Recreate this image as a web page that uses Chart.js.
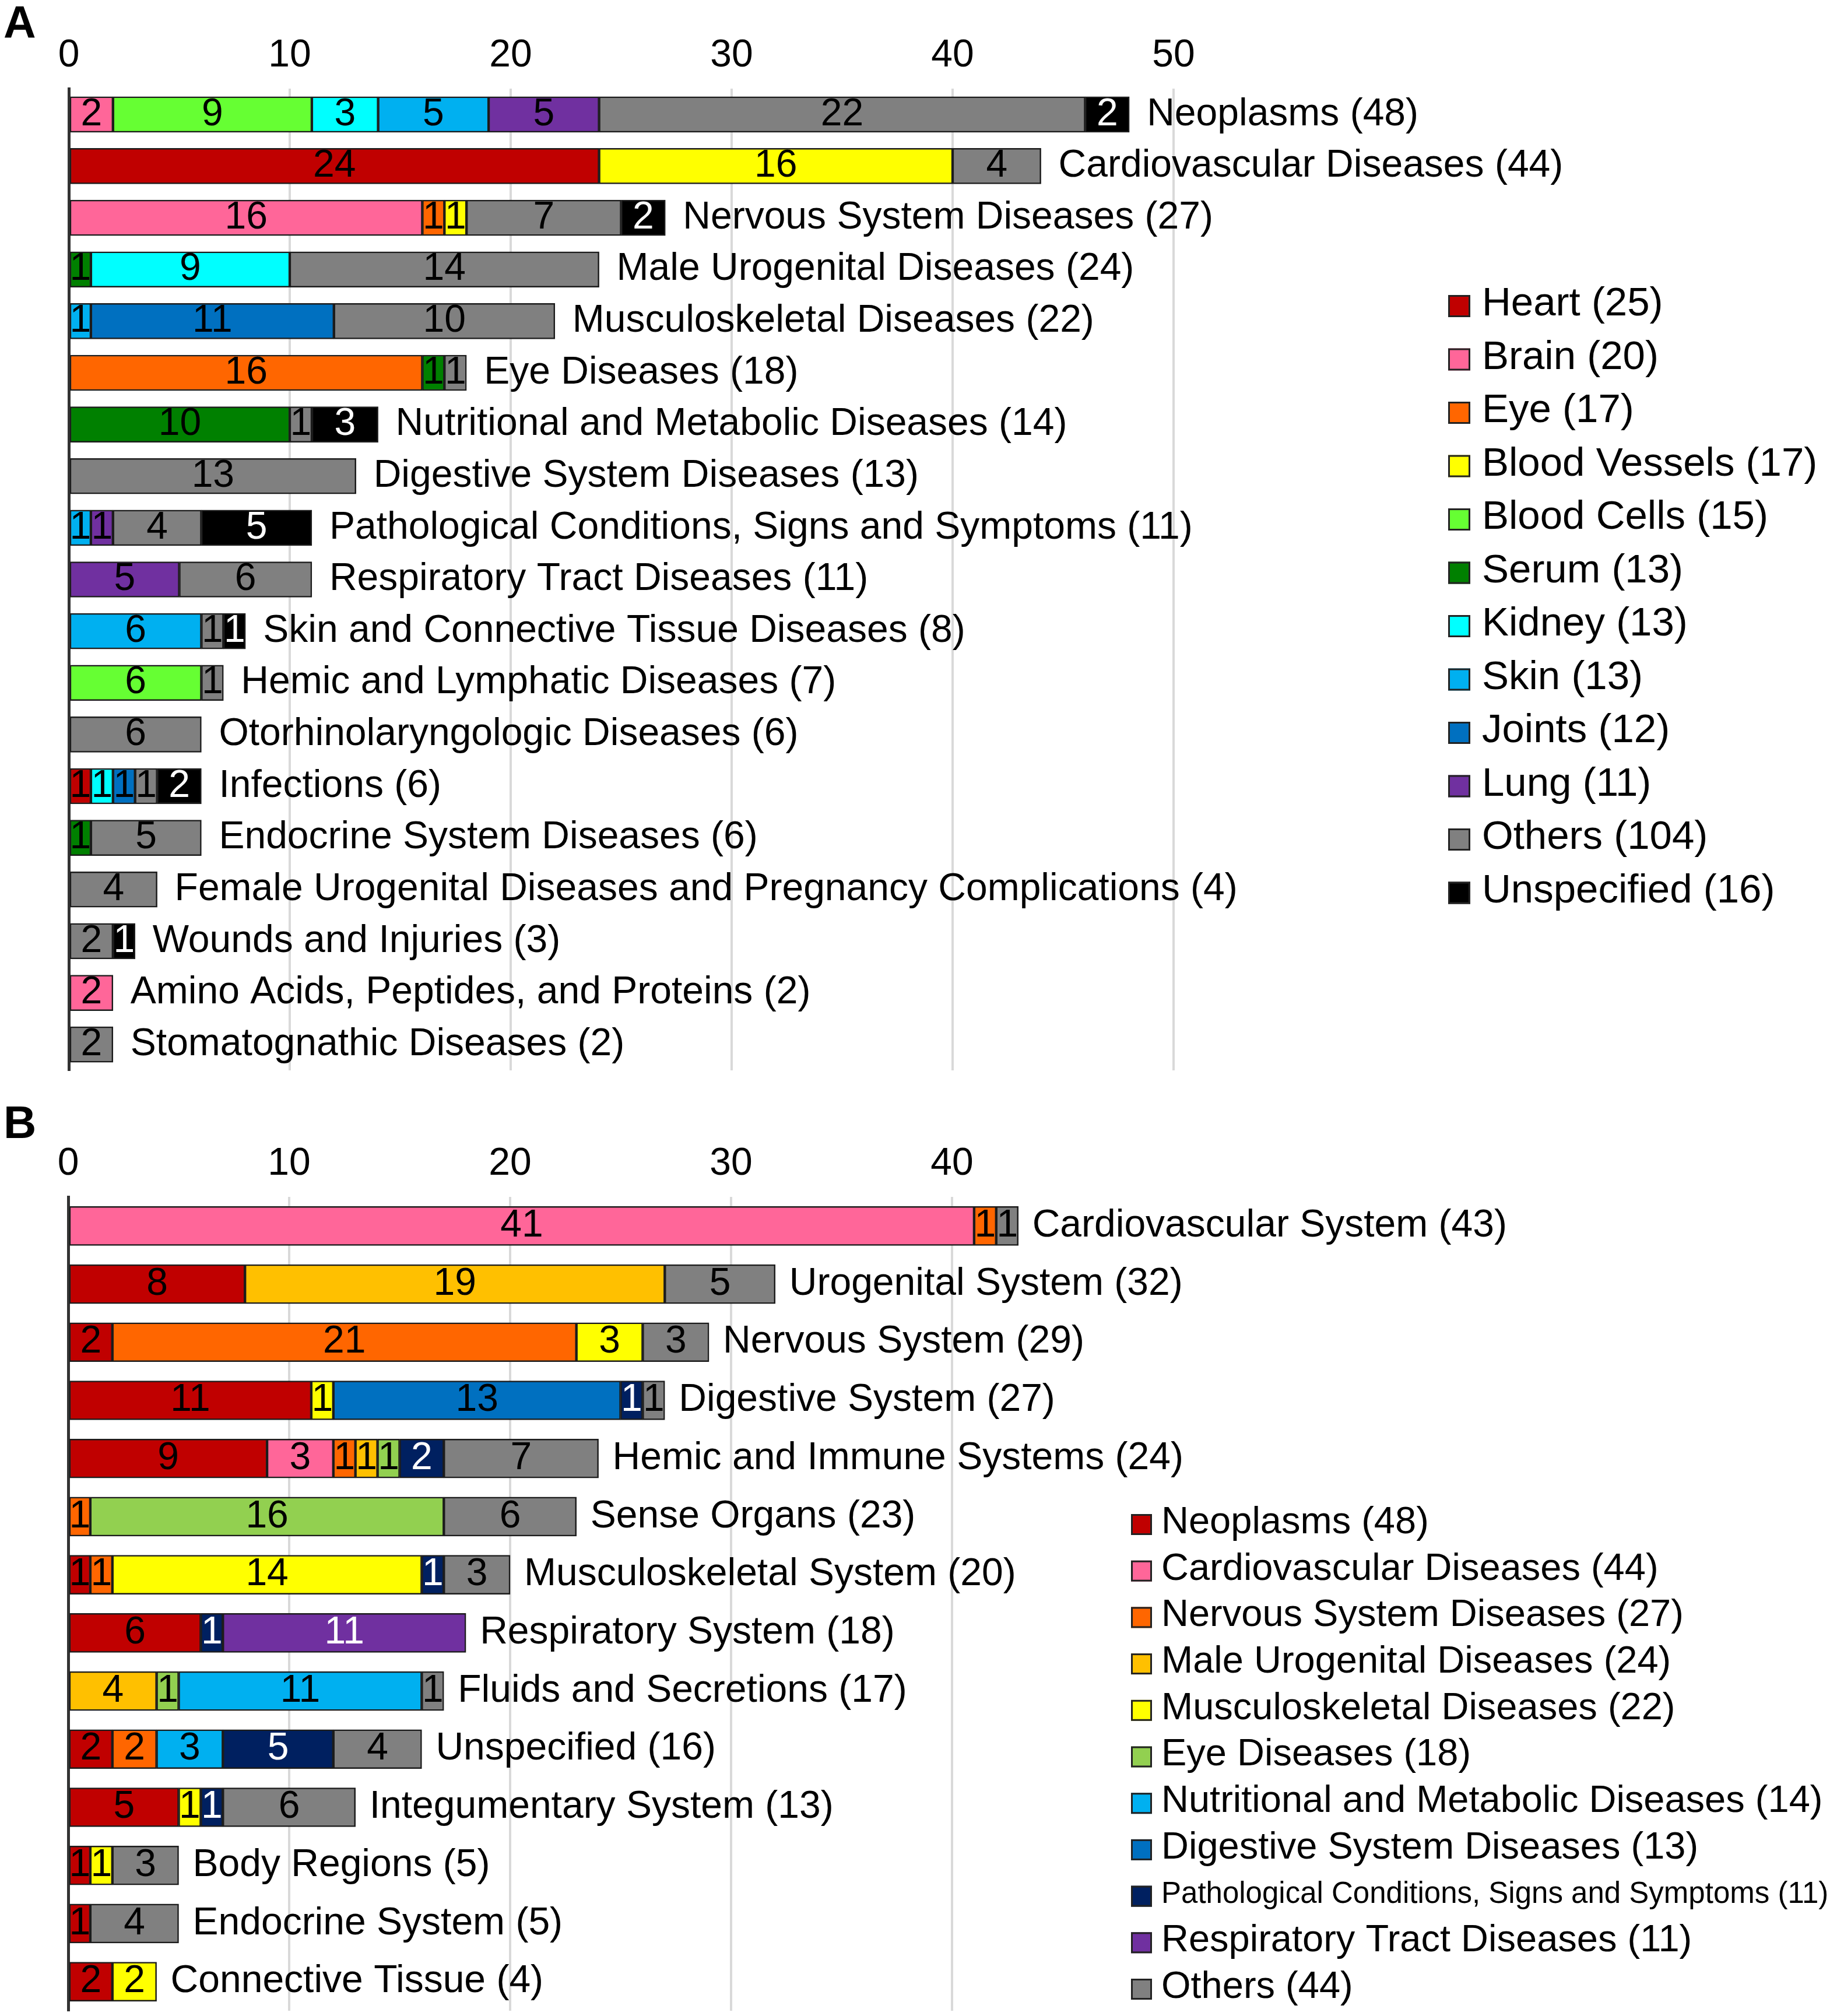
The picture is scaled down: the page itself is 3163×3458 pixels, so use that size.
<!DOCTYPE html>
<html>
<head>
<meta charset="utf-8">
<script src="https://cdn.jsdelivr.net/npm/chart.js@4.4.1/dist/chart.umd.min.js"></script>
<style>
  html, body { margin: 0; padding: 0; background: #fff; }
  body { width: 3163px; height: 3458px; position: relative; overflow: hidden; }
  canvas { position: absolute; left: 0; }
  #chartA { top: 0; }
  #chartB { top: 1860px; }
</style>
</head>
<body>
<canvas id="chartA" width="3163" height="1860"></canvas>
<canvas id="chartB" width="3163" height="1598"></canvas>
<script>
// ---------- panel A: disease categories by tissue ----------
const diseasesA = ['Neoplasms', 'Cardiovascular Diseases', 'Nervous System Diseases', 'Male Urogenital Diseases',
  'Musculoskeletal Diseases', 'Eye Diseases', 'Nutritional and Metabolic Diseases', 'Digestive System Diseases',
  'Pathological Conditions, Signs and Symptoms', 'Respiratory Tract Diseases', 'Skin and Connective Tissue Diseases',
  'Hemic and Lymphatic Diseases', 'Otorhinolaryngologic Diseases', 'Infections', 'Endocrine System Diseases',
  'Female Urogenital Diseases and Pregnancy Complications', 'Wounds and Injuries',
  'Amino Acids, Peptides, and Proteins', 'Stomatognathic Diseases'];
const totalsA = [48, 44, 27, 24, 22, 18, 14, 13, 11, 11, 8, 7, 6, 6, 6, 4, 3, 2, 2];

const tissues = ['Heart', 'Brain', 'Eye', 'Blood Vessels', 'Blood Cells', 'Serum', 'Kidney', 'Skin', 'Joints', 'Lung', 'Others', 'Unspecified'];
const tissueCounts = [25, 20, 17, 17, 15, 13, 13, 13, 12, 11, 104, 16];

const heart        = [0, 24, 0, 0, 0, 0, 0, 0, 0, 0, 0, 0, 0, 1, 0, 0, 0, 0, 0];
const brain        = [2, 0, 16, 0, 0, 0, 0, 0, 0, 0, 0, 0, 0, 0, 0, 0, 0, 2, 0];
const eye          = [0, 0, 1, 0, 0, 16, 0, 0, 0, 0, 0, 0, 0, 0, 0, 0, 0, 0, 0];
const bloodVessels = [0, 16, 1, 0, 0, 0, 0, 0, 0, 0, 0, 0, 0, 0, 0, 0, 0, 0, 0];
const bloodCells   = [9, 0, 0, 0, 0, 0, 0, 0, 0, 0, 0, 6, 0, 0, 0, 0, 0, 0, 0];
const serum        = [0, 0, 0, 1, 0, 1, 10, 0, 0, 0, 0, 0, 0, 0, 1, 0, 0, 0, 0];
const kidney       = [3, 0, 0, 9, 0, 0, 0, 0, 0, 0, 0, 0, 0, 1, 0, 0, 0, 0, 0];
const skin         = [5, 0, 0, 0, 1, 0, 0, 0, 1, 0, 6, 0, 0, 0, 0, 0, 0, 0, 0];
const joints       = [0, 0, 0, 0, 11, 0, 0, 0, 0, 0, 0, 0, 0, 1, 0, 0, 0, 0, 0];
const lung         = [5, 0, 0, 0, 0, 0, 0, 0, 1, 5, 0, 0, 0, 0, 0, 0, 0, 0, 0];
const othersA      = [22, 4, 7, 14, 10, 1, 1, 13, 4, 6, 1, 1, 6, 1, 5, 4, 2, 0, 2];
const unspecified  = [2, 0, 2, 0, 0, 0, 3, 0, 5, 0, 1, 0, 0, 2, 0, 0, 1, 0, 0];

// ---------- panel B: anatomy categories by disease ----------
const anatomyB = ['Cardiovascular System', 'Urogenital System', 'Nervous System', 'Digestive System',
  'Hemic and Immune Systems', 'Sense Organs', 'Musculoskeletal System', 'Respiratory System',
  'Fluids and Secretions', 'Unspecified', 'Integumentary System', 'Body Regions', 'Endocrine System', 'Connective Tissue'];
const totalsB = [43, 32, 29, 27, 24, 23, 20, 18, 17, 16, 13, 5, 5, 4];

const diseaseGroups = ['Neoplasms', 'Cardiovascular Diseases', 'Nervous System Diseases', 'Male Urogenital Diseases',
  'Musculoskeletal Diseases', 'Eye Diseases', 'Nutritional and Metabolic Diseases', 'Digestive System Diseases',
  'Pathological Conditions, Signs and Symptoms', 'Respiratory Tract Diseases', 'Others'];
const diseaseCounts = [48, 44, 27, 24, 22, 18, 14, 13, 11, 11, 44];

const neoplasms      = [0, 8, 2, 11, 9, 0, 1, 6, 0, 2, 5, 1, 1, 2];
const cardiovascular = [41, 0, 0, 0, 3, 0, 0, 0, 0, 0, 0, 0, 0, 0];
const nervous        = [1, 0, 21, 0, 1, 1, 1, 0, 0, 2, 0, 0, 0, 0];
const maleUrogenital = [0, 19, 0, 0, 1, 0, 0, 0, 4, 0, 0, 0, 0, 0];
const musculo        = [0, 0, 3, 1, 0, 0, 14, 0, 0, 0, 1, 1, 0, 2];
const eyeDiseases    = [0, 0, 0, 0, 1, 16, 0, 0, 1, 0, 0, 0, 0, 0];
const nutritional    = [0, 0, 0, 0, 0, 0, 0, 0, 11, 3, 0, 0, 0, 0];
const digestive      = [0, 0, 0, 13, 0, 0, 0, 0, 0, 0, 0, 0, 0, 0];
const pathological   = [0, 0, 0, 1, 2, 0, 1, 1, 0, 5, 1, 0, 0, 0];
const respiratory    = [0, 0, 0, 0, 0, 0, 0, 11, 0, 0, 0, 0, 0, 0];
const othersB        = [1, 5, 3, 1, 7, 6, 3, 0, 1, 4, 6, 3, 4, 0];

const FONT = '"Liberation Sans", Arial, Helvetica, sans-serif';
Chart.defaults.font.family = FONT;
Chart.defaults.color = '#000';

// numbers inside the segments and "Name (total)" after each bar
const barText = {
  id: 'barText',
  afterDatasetsDraw(chart, args, opts) {
    const ctx = chart.ctx;
    const xs = chart.scales.x, ys = chart.scales.y;
    ctx.save();
    ctx.font = opts.size + 'px ' + FONT;
    ctx.textAlign = 'center';
    ctx.textBaseline = 'middle';
    chart.data.datasets.forEach((ds, i) => {
      chart.getDatasetMeta(i).data.forEach((bar, j) => {
        const v = ds.data[j];
        if (!v) return;
        ctx.fillStyle = ds.textColor || '#000';
        ctx.fillText(String(v), (bar.x + bar.base) / 2, bar.y + opts.dy);
      });
    });
    ctx.textAlign = 'left';
    ctx.fillStyle = '#000';
    ctx.font = opts.labelSize + 'px ' + FONT;
    chart.data.labels.forEach((name, j) => {
      const t = opts.totals[j];
      ctx.fillText(name + ' (' + t + ')', xs.getPixelForValue(t) + opts.gap, ys.getPixelForValue(j) + opts.dy);
    });
    ctx.restore();
  }
};

// legend column on the right plus the panel letter
const sideLegend = {
  id: 'sideLegend',
  afterDraw(chart, args, o) {
    const ctx = chart.ctx;
    ctx.save();
    ctx.textAlign = 'left';
    ctx.textBaseline = 'middle';
    chart.data.datasets.forEach((ds, i) => {
      const cy = o.top + i * o.step;
      ctx.fillStyle = ds.backgroundColor;
      ctx.fillRect(o.left, cy - o.box / 2, o.box, o.box);
      ctx.lineWidth = 3;
      ctx.strokeStyle = '#222';
      ctx.strokeRect(o.left + 1.5, cy - o.box / 2 + 1.5, o.box - 3, o.box - 3);
      ctx.fillStyle = '#000';
      const size = (o.sizes && o.sizes[i]) || o.size;
      ctx.font = size + 'px ' + FONT;
      ctx.fillText(ds.label + ' (' + o.counts[i] + ')', o.textLeft, cy + o.dy);
    });
    ctx.textBaseline = 'alphabetic';
    ctx.font = 'bold ' + o.tagSize + 'px ' + FONT;
    ctx.fillText(o.tag, o.tagX, o.tagY);
    ctx.restore();
  }
};

function makeDatasets(series, names, colors, textColors) {
  return series.map((vals, i) => ({
    label: names[i],
    data: vals.map(v => v || null),
    backgroundColor: colors[i],
    textColor: textColors[i] || '#000',
    borderColor: '#1c1c1c',
    borderWidth: 2.5,
    borderSkipped: false
  }));
}

function makeChart(id, labels, datasets, cfg) {
  return new Chart(document.getElementById(id), {
    type: 'bar',
    data: { labels: labels, datasets: datasets },
    plugins: [barText, sideLegend],
    options: {
      indexAxis: 'y',
      responsive: false,
      devicePixelRatio: 1,
      animation: false,
      barThickness: cfg.barThickness,
      layout: { padding: cfg.padding },
      scales: {
        x: {
          position: 'top',
          stacked: true,
          min: 0,
          max: 50,
          afterFit: s => { s.height = cfg.axisHeight; },
          ticks: {
            stepSize: 10,
            padding: 17,
            font: { size: 66 },
            color: '#000',
            callback: v => (cfg.hide50 && v === 50) ? '' : v
          },
          grid: {
            drawTicks: false,
            lineWidth: 4,
            color: c => (cfg.hide50 && c.tick && c.tick.value === 50) ? 'rgba(0,0,0,0)' : '#d9d9d9'
          },
          border: { display: false }
        },
        y: {
          stacked: true,
          afterFit: s => { s.width = 0; },
          ticks: { display: false },
          grid: { display: false, drawTicks: false },
          border: { display: true, color: '#333', width: 5 }
        }
      },
      plugins: {
        legend: { display: false },
        tooltip: { enabled: false },
        barText: { size: 66, labelSize: 66, dy: 0, gap: cfg.gap, totals: cfg.totals },
        sideLegend: cfg.legend
      }
    }
  });
}

makeChart('chartA', diseasesA,
  makeDatasets(
    [heart, brain, eye, bloodVessels, bloodCells, serum, kidney, skin, joints, lung, othersA, unspecified],
    tissues,
    ['#c00000', '#ff6699', '#ff6600', '#ffff00', '#66ff33', '#008000', '#00ffff', '#00b0f0', '#0070c0', '#7030a0', '#808080', '#000000'],
    { 11: '#fff' }),
  {
    barThickness: 61,
    padding: { left: 118, right: 1150, top: 0, bottom: 24 },
    axisHeight: 152,
    gap: 30,
    totals: totalsA,
    hide50: false,
    legend: { left: 2484, box: 38, textLeft: 2542, top: 525, step: 91.5, size: 69, dy: -3,
      counts: tissueCounts, tag: 'A', tagSize: 77, tagX: 6, tagY: 65 }
  });

makeChart('chartB', anatomyB,
  makeDatasets(
    [neoplasms, cardiovascular, nervous, maleUrogenital, musculo, eyeDiseases, nutritional, digestive, pathological, respiratory, othersB],
    diseaseGroups,
    ['#c00000', '#ff6699', '#ff6600', '#ffc000', '#ffff00', '#92d050', '#00b0f0', '#0070c0', '#002060', '#7030a0', '#808080'],
    { 8: '#fff', 9: '#fff' }),
  {
    barThickness: 67,
    padding: { left: 117, right: 1151, top: 0, bottom: 9 },
    axisHeight: 193,
    gap: 24,
    totals: totalsB,
    hide50: true,
    legend: { left: 1940, box: 36, textLeft: 1992, top: 755, step: 79.7, size: 65, sizes: { 8: 51 }, dy: -3,
      counts: diseaseCounts, tag: 'B', tagSize: 78, tagX: 6, tagY: 92 }
  });
</script>
</body>
</html>
